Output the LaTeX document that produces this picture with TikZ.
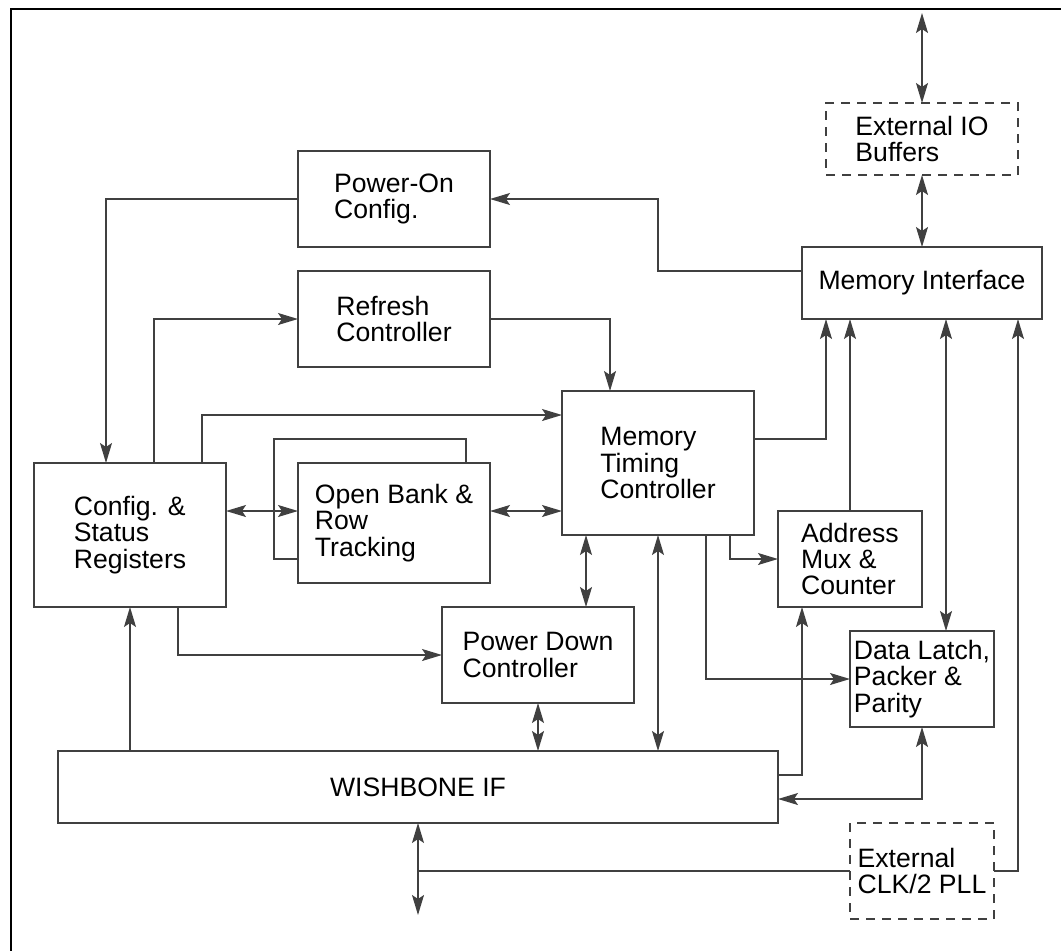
\documentclass[tikz,border=0pt]{standalone}
\usepackage{fontspec}
\setmainfont{Liberation Sans}
\usetikzlibrary{arrows.meta,positioning}

\begin{document}
\begin{tikzpicture}[x=1pt,y=-1pt,line width=1.4pt,
    >={Stealth[length=20pt,width=12pt,inset=4pt]},
    font=\fontsize{26.6}{26.3}\selectfont,
    block/.style={draw=black!75,align=left,inner sep=0pt,outer sep=0pt},
    dashblock/.style={block,dash pattern=on 9pt off 7pt},
    conn/.style={draw=black!75}]
    \useasboundingbox (0,0) rectangle (1061,951);
    \draw[line width=2.8pt] (1061,9) -- (11,9) -- (11,951);

    \node[dashblock,minimum width=192pt,minimum height=72pt] (iobuf) at (922,139) {External IO\\Buffers};
    \node[block,minimum width=240pt,minimum height=72pt] (memif) at (922,283) {Memory Interface};
    \node[block,minimum width=192pt,minimum height=96pt] (poweron) at (394,199) {Power-On\\Config.};
    \node[block,minimum width=192pt,minimum height=96pt] (refresh) at (394,319) {Refresh\\Controller};
    \node[block,minimum width=192pt,minimum height=144pt] (csr) at (130,535) {Config. \&\\Status\\Registers};
    \node[block,minimum width=192pt,minimum height=120pt] (openbank) at (394,523) {Open Bank \&\\Row\\Tracking};
    \node[block,minimum width=192pt,minimum height=144pt] (mtc) at (658,463) {Memory\\Timing\\Controller};
    \node[block,minimum width=144pt,minimum height=96pt] (addrmux) at (850,559) {Address\\Mux \&\\Counter};
    \node[block,minimum width=192pt,minimum height=96pt] (pwrdown) at (538,655) {Power Down\\Controller};
    \node[block,minimum width=144pt,minimum height=96pt] (datalatch) at (922,679) {Data Latch,\\Packer \&\\Parity};
    \node[block,minimum width=720pt,minimum height=72pt] (wb) at (418,787) {WISHBONE IF};
    \node[dashblock,minimum width=144pt,minimum height=96pt] (extclk) at (922,871) {External\\CLK/2 PLL};
    \coordinate (iopin) at (922,13);
    \coordinate (wbbus) at (418,915);

    % top part
    \draw[conn,<->] (iobuf.north) -- (iopin);
    \draw[conn,<->] (iobuf.south) -- (memif.north);
    \draw[conn,->] (memif.west |- 0,271) -| (658,199) -- (poweron.east);
    \draw[conn,->] (poweron.west) -| (csr.north -| 106,0);
    \draw[conn,->] (csr.north -| 154,0) |- (refresh.west);
    \draw[conn,->] (csr.north -| 202,0) |- (mtc.west |- 0,415);
    \draw[conn,->] (refresh.east) -| (mtc.north -| 610,0);

    % open bank tracking
    \draw[conn,<->] (csr.east |- 0,511) -- (openbank.west |- 0,511);
    \draw[conn,<->] (openbank.east |- 0,511) -- (mtc.west |- 0,511);
    \draw[conn] (openbank.north -| 466,0) |- (274,439) |- (openbank.west |- 0,559);

    % to memory interface
    \draw[conn,->] (mtc.east |- 0,439) -| (memif.south -| 826,0);
    \draw[conn,->] (addrmux.north) -- (memif.south -| addrmux.north);
    \draw[conn,<->] (memif.south -| 946,0) -- (datalatch.north -| 946,0);
    \draw[conn,->] (extclk.east) -| (memif.south -| 1018,0);

    % timing controller outputs
    \draw[conn,->] (mtc.south -| 730,0) |- (addrmux.west);
    \draw[conn,->] (mtc.south -| 706,0) |- (datalatch.west);
    \draw[conn,<->] (mtc.south -| 586,0) -- (pwrdown.north -| 586,0);
    \draw[conn,<->] (mtc.south) -- (wb.north -| mtc.south);

    % wishbone side
    \draw[conn,->] (csr.south -| 178,0) |- (pwrdown.west);
    \draw[conn,->] (wb.north -| 130,0) -- (csr.south -| 130,0);
    \draw[conn,<->] (pwrdown.south) -- (wb.north -| pwrdown.south);
    \draw[conn,->] (wb.east |- 0,775) -| (addrmux.south -| 802,0);
    \draw[conn,<->] (datalatch.south) |- (wb.east |- 0,799);
    \draw[conn,<->] (wb.south) -- (wbbus);
    \draw[conn] (extclk.west) -- (wbbus |- extclk.west);
\end{tikzpicture}
\end{document}
